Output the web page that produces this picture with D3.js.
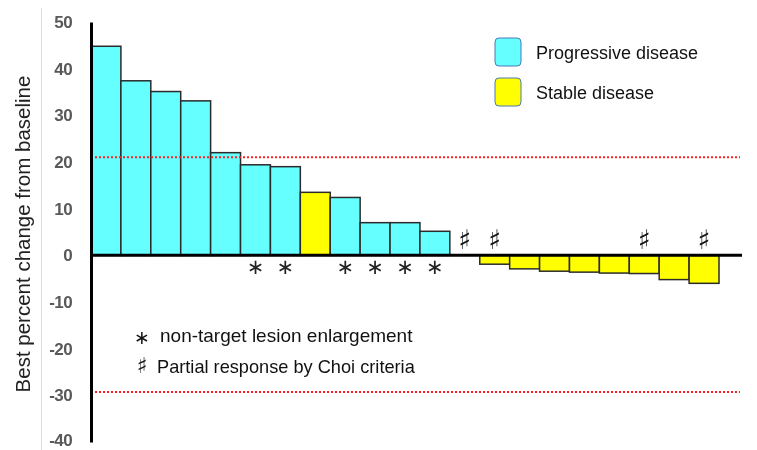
<!DOCTYPE html>
<html>
<head>
<meta charset="utf-8">
<script src="https://cdn.jsdelivr.net/npm/d3@7/dist/d3.min.js"></script>
<style>
  html, body { margin: 0; padding: 0; background: #fff; }
  svg { display: block; will-change: transform; }
</style>
</head>
<body>
<svg id="chart" width="757" height="450"></svg>
<script>
// Waterfall of best percent change from baseline, one bar per patient
const patients = ["P1","P2","P3","P4","P5","P6","P7","P8","P9","P10","P11",
                  "P12","P13","P14","P15","P16","P17","P18","P19","P20","P21"];
const bestChange = [44.8, 37.4, 35.1, 33.1, 22.0, 19.4, 19.0, 13.5, 12.4, 7.0, 7.0,
                    5.15, 0, -1.9, -2.9, -3.4, -3.6, -3.8, -3.9, -5.2, -6.0];
const response = ["PD","PD","PD","PD","PD","PD","PD","SD","PD","PD","PD",
                  "PD","SD","SD","SD","SD","SD","SD","SD","SD","SD"];
// patients with non-target lesion enlargement (*) and Choi partial response (#)
const nonTargetEnlargement = ["P6","P7","P9","P10","P11","P12"];
const choiPartialResponse = ["P13","P14","P19","P21"];
const yTicks = [50, 40, 30, 20, 10, 0, -10, -20, -30, -40];
const thresholds = [21, -29.3];
const legendItems = [
  { key: "PD", label: "Progressive disease" },
  { key: "SD", label: "Stable disease" }
];
const SHARP = "\u266F";
const footnotes = [
  { sym: "\u2217", text: "non-target lesion enlargement" },
  { sym: SHARP, text: "Partial response by Choi criteria" }
];

const colors = { PD: "#66FFFF", SD: "#FFFF00" };
const svg = d3.select("#chart");
const font = "'Liberation Sans', Arial, sans-serif";
const symFont = "'DejaVu Sans', 'Noto Sans', sans-serif";

const x = d3.scaleBand().domain(patients).range([91, 719]).padding(0);
const y = d3.scaleLinear().domain([-40, 50]).range([442, 22]);
const xEnd = 742;

// faint frame line on the left
svg.append("line")
  .attr("x1", 41.5).attr("x2", 41.5).attr("y1", 8).attr("y2", 450)
  .attr("stroke", "#dcdcdc").attr("stroke-width", 1);

// y-axis title
svg.append("text")
  .attr("transform", `translate(30,${(y(50) + y(-40)) / 2 + 2}) rotate(-90)`)
  .attr("text-anchor", "middle")
  .attr("font-family", font)
  .attr("font-size", 20.5)
  .attr("fill", "#222")
  .text("Best percent change from baseline");

// bars
const data = patients.map((p, i) => ({ p, v: bestChange[i], r: response[i] }));
svg.append("g").selectAll("rect")
  .data(data.filter(d => d.v !== 0))
  .join("rect")
  .attr("x", d => x(d.p))
  .attr("width", x.bandwidth())
  .attr("y", d => y(Math.max(0, d.v)))
  .attr("height", d => Math.abs(y(d.v) - y(0)))
  .attr("fill", d => colors[d.r])
  .attr("stroke", "#2b2b2b")
  .attr("stroke-width", 1.5);

// threshold lines
svg.append("g").selectAll("line")
  .data(thresholds)
  .join("line")
  .attr("x1", x.range()[0]).attr("x2", 740)
  .attr("y1", d => y(d)).attr("y2", d => y(d))
  .attr("stroke", "#ff2020")
  .attr("stroke-width", 2)
  .attr("stroke-dasharray", "2,2");

// zero baseline
svg.append("line")
  .attr("x1", x.range()[0]).attr("x2", xEnd)
  .attr("y1", y(0)).attr("y2", y(0))
  .attr("stroke", "#000").attr("stroke-width", 3);

// y axis (plain hyphen for negatives)
const yAxis = d3.axisLeft(y).tickValues(yTicks).tickFormat(d => String(d))
  .tickSize(0).tickPadding(19);
const gy = svg.append("g").attr("transform", "translate(91,0)").call(yAxis);
gy.select(".domain").attr("stroke", "#000").attr("stroke-width", 3);
gy.selectAll("text")
  .attr("font-family", font)
  .attr("font-size", 17)
  .attr("font-weight", "bold")
  .attr("letter-spacing", -0.6)
  .attr("fill", "#595959")
  .attr("dy", d => d === -40 ? "0.2em" : "0.32em");

// annotations
svg.append("g").selectAll("text")
  .data(nonTargetEnlargement)
  .join("text")
  .attr("x", d => x(d) + x.bandwidth() / 2)
  .attr("y", y(0) + 19)
  .attr("text-anchor", "middle")
  .attr("font-family", symFont)
  .attr("font-size", 21)
  .attr("fill", "#222")
  .text("\u2217");

svg.append("g").selectAll("text")
  .data(choiPartialResponse)
  .join("text")
  .attr("x", d => x(d) + x.bandwidth() / 2)
  .attr("y", y(0) - 6)
  .attr("text-anchor", "middle")
  .attr("font-family", symFont)
  .attr("font-size", 27)
  .attr("fill", "#111")
  .attr("opacity", 0.99)
  .text(SHARP);

// legend
const lg = svg.append("g").attr("transform", "translate(495,38)");
const li = lg.selectAll("g").data(legendItems).join("g")
  .attr("transform", (d, i) => `translate(0,${i * 40})`);
li.append("rect")
  .attr("width", 26).attr("height", 28).attr("rx", 4)
  .attr("fill", d => colors[d.key])
  .attr("stroke", "#4a78b8").attr("stroke-width", 1);
li.append("text")
  .attr("x", 41).attr("y", 21)
  .attr("font-family", font)
  .attr("font-size", 18)
  .attr("fill", "#111")
  .text(d => d.label);

// footnotes
const fn = svg.append("g").selectAll("g").data(footnotes).join("g")
  .attr("transform", (d, i) => `translate(142,${342 + i * 31})`);
fn.append("text")
  .attr("x", 0).attr("y", (d, i) => i === 0 ? 2 : 0)
  .attr("text-anchor", "middle")
  .attr("font-family", symFont)
  .attr("font-size", (d, i) => i === 0 ? 19 : 22)
  .attr("fill", "#111")
  .attr("opacity", 0.99)
  .text(d => d.sym);
fn.append("text")
  .attr("x", (d, i) => i === 0 ? 18 : 15).attr("y", 0)
  .attr("font-family", font)
  .attr("font-size", (d, i) => i === 0 ? 19 : 18.2)
  .attr("fill", "#111")
  .text(d => d.text);
</script>
</body>
</html>
